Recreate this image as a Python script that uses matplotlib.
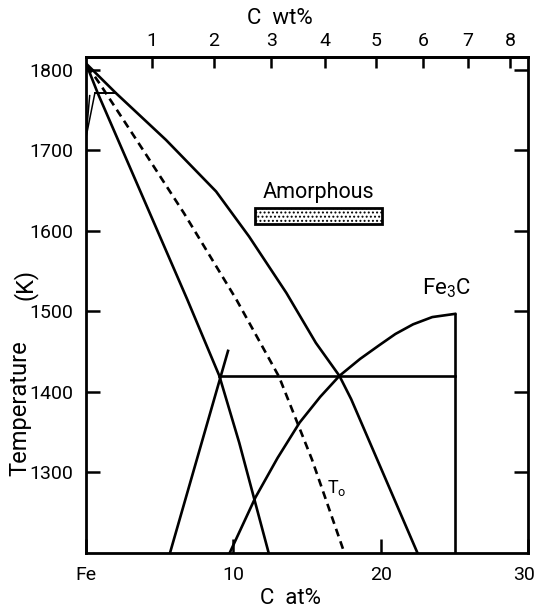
import numpy as np
import matplotlib.pyplot as plt
from matplotlib.patches import Rectangle
from matplotlib.transforms import ScaledTranslation

plt.rcParams['font.family'] = ['Roboto', 'DejaVu Sans']
plt.rcParams['mathtext.fontset'] = 'custom'
plt.rcParams['mathtext.rm'] = 'Roboto'
plt.rcParams['mathtext.it'] = 'Roboto'
plt.rcParams['hatch.linewidth'] = 0.9

# Fe-C diagram read in at% C and temperature (K)
liquidus_at = [0.0, 2.04, 5.43, 8.83, 11.07, 13.6, 15.6, 17.2, 18.0, 22.5]
liquidus_T = [1808, 1771, 1713, 1649, 1593, 1523, 1461, 1420, 1391, 1200]

solidus_at = [0.0, 0.8, 6.87, 9.05, 10.4, 12.4]
solidus_T = [1808, 1771, 1515, 1420, 1337, 1200]

t0_at = [0.1, 1.0, 4.07, 6.65, 10.2, 13.1, 15.34, 17.52]
t0_T = [1805, 1781, 1695, 1622, 1515, 1419, 1316, 1201]

delta_left_at = [0.0, 0.25]
delta_left_T = [1716, 1768]
delta_right_at = [0.0, 0.6]
delta_right_T = [1716, 1771]
peritectic_at = [0.6, 2.04]
peritectic_T = [1771, 1771]

gamma_solvus_at = [5.7, 9.64]
gamma_solvus_T = [1200, 1451]

cem_liquidus_at = [9.75, 11.5, 13.0, 14.5, 15.9, 17.2, 18.6, 19.9, 21.0,
                   22.2, 23.5, 25.05]
cem_liquidus_T = [1200, 1269, 1318, 1362, 1394, 1420, 1441, 1458, 1472,
                  1484, 1493, 1497]

eutectic_at = [9.05, 25.05]
eutectic_T = [1420, 1420]
fe3c_at = [25.05, 25.05]
fe3c_T = [1200, 1497]

amorphous_at = [11.47, 20.1]
amorphous_T = [1609, 1629]

bottom_ticks = [0, 10, 20, 30]
bottom_labels = ['Fe', '10', '20', '30']
temp_ticks = [1300, 1400, 1500, 1600, 1700, 1800]
wt_ticks = [1, 2, 3, 4, 5, 6, 7, 8]


def at_to_wt(a):
    a = np.asarray(a, dtype=float)
    return 100 * a * 12.011 / (a * 12.011 + (100 - a) * 55.845)


def wt_to_at(w):
    w = np.asarray(w, dtype=float)
    return 100 * (w / 12.011) / (w / 12.011 + (100 - w) / 55.845)


fig = plt.figure(figsize=(5.37, 6.16), dpi=100)
ax = fig.add_axes([86 / 537, 1 - 553 / 616, 442 / 537, 496 / 616])

lw = 1.9
k = 'black'
ax.plot(liquidus_at, liquidus_T, color=k, lw=lw)
ax.plot(solidus_at, solidus_T, color=k, lw=lw)
ax.plot(t0_at, t0_T, color=k, lw=lw, ls=(0, (3, 2)))
ax.plot(delta_left_at, delta_left_T, color=k, lw=1.1)
ax.plot(delta_right_at, delta_right_T, color=k, lw=1.1)
ax.plot(peritectic_at, peritectic_T, color=k, lw=1.4)
ax.plot(gamma_solvus_at, gamma_solvus_T, color=k, lw=lw)
ax.plot(cem_liquidus_at, cem_liquidus_T, color=k, lw=lw)
ax.plot(eutectic_at, eutectic_T, color=k, lw=lw)
ax.plot(fe3c_at, fe3c_T, color=k, lw=lw)

box = Rectangle((amorphous_at[0], amorphous_T[0]),
                amorphous_at[1] - amorphous_at[0],
                amorphous_T[1] - amorphous_T[0],
                facecolor='white', edgecolor=k, lw=2.0, hatch='....')
ax.add_patch(box)
ax.text(15.75, 1648, 'Amorphous', fontsize=15.5, ha='center', va='center')
ax.text(24.5, 1529, 'Fe$_3$C', fontsize=16, ha='center', va='center')
ax.text(17.0, 1281, 'T$_\\mathrm{o}$', fontsize=13, ha='center', va='center')

ax.set_xlim(0, 30)
ax.set_ylim(1200, 1816)
ax.set_xticks(bottom_ticks)
ax.set_xticklabels(bottom_labels)
ax.set_yticks(temp_ticks)
ax.tick_params(axis='both', direction='in', length=10, width=1.8,
               labelsize=14, right=True, top=False)
ax.tick_params(axis='y', pad=9)
ax.tick_params(axis='x', pad=9)
for s in ax.spines.values():
    s.set_linewidth(2.0)

# keep the last bottom label inside the figure edge
last = ax.get_xticklabels()[-1]
last.set_transform(last.get_transform()
                   + ScaledTranslation(-4 / 100, 0, fig.dpi_scale_trans))

sec = ax.secondary_xaxis('top', functions=(at_to_wt, wt_to_at))
sec.set_xticks(wt_ticks)
sec.tick_params(direction='in', length=8, width=1.8, labelsize=14, pad=5)
sec.spines['top'].set_linewidth(2.0)

fig.text(20 / 537, 1 - 408 / 616, 'Temperature', rotation=90,
         fontsize=17, ha='center', va='center')
fig.text(25 / 537, 1 - 284 / 616, '(K)', rotation=90,
         fontsize=17, ha='center', va='center')
fig.text(290 / 537, 1 - 598 / 616, 'C  at%', fontsize=16,
         ha='center', va='center')
fig.text(280 / 537, 1 - 18 / 616, 'C  wt%', fontsize=16,
         ha='center', va='center')

fig.savefig('out.png', dpi=100)
